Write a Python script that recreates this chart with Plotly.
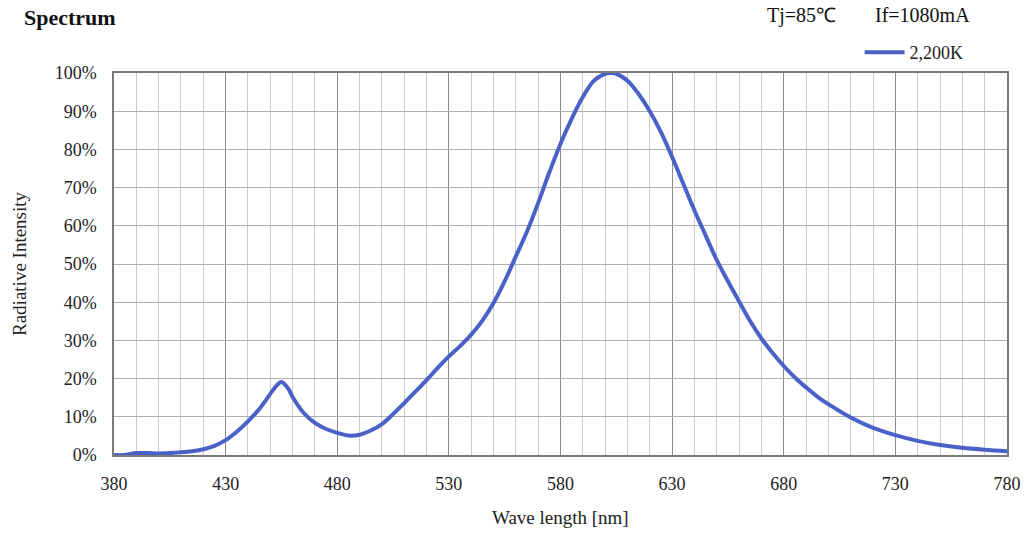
import plotly.graph_objects as go

wavelength = [380, 385, 390, 395, 400, 405, 410, 415, 420, 425, 430, 435, 440, 445, 450,
              452, 455, 458, 460, 465, 470, 475, 480, 485, 490, 495, 500, 505, 510, 515, 520, 525,
              530, 535, 540, 545, 550, 555, 560, 565, 570, 575, 580, 585, 590, 595, 600,
              603, 605, 610, 615, 620, 625, 630, 635, 640, 645, 650, 655, 660, 665, 670,
              675, 680, 685, 690, 695, 700, 710, 720, 730, 740, 750, 760, 770, 780]
intensity = [0.0, 0.0, 0.5, 0.5, 0.4, 0.5, 0.7, 1.0, 1.5, 2.4, 3.9, 6.1, 8.8, 12.0, 16.0,
             17.6, 19.1, 17.4, 15.2, 11.0, 8.4, 6.8, 5.8, 5.1, 5.3, 6.4, 8.1, 10.7, 13.6, 16.6, 19.6, 22.8,
             25.8, 28.5, 31.5, 35.2, 39.8, 45.5, 52.0, 58.5, 66.0, 74.0, 81.5, 88.0, 93.7, 98.0, 99.8,
             100.0, 99.8, 98.0, 94.5, 90.0, 84.5, 78.0, 71.0, 64.0, 57.5, 51.0, 45.5, 40.2, 35.0, 30.5,
             26.7, 23.3, 20.3, 17.7, 15.3, 13.3, 9.8, 7.1, 5.2, 3.7, 2.6, 1.9, 1.4, 1.0]

series_name = "2,200K"
x_ticks = [380, 430, 480, 530, 580, 630, 680, 730, 780]
y_ticks = [0, 10, 20, 30, 40, 50, 60, 70, 80, 90, 100]
y_tick_labels = ["0%", "10%", "20%", "30%", "40%", "50%", "60%", "70%", "80%", "90%", "100%"]

FONT = "Liberation Serif, Times New Roman, serif"
LINE = "#4a62c8"

fig = go.Figure()
fig.add_trace(go.Scatter(
    x=wavelength, y=intensity, mode="lines", name=series_name,
    line=dict(color=LINE, width=4, shape="spline", smoothing=1.0),
))

fig.update_layout(
    width=1025, height=533,
    margin=dict(l=114, r=18, t=73, b=78, autoexpand=False),
    paper_bgcolor="white", plot_bgcolor="white",
    font=dict(family=FONT, size=18, color="#222"),
    showlegend=True,
    legend=dict(x=0.957, xanchor="right", y=1.005, yanchor="bottom", yref="paper",
                xref="paper", bgcolor="rgba(0,0,0,0)", font=dict(size=18, family=FONT),
                itemwidth=40, borderwidth=0),
    xaxis=dict(
        range=[380, 780], tickvals=x_ticks, showgrid=True, gridcolor="#8a8a8a", gridwidth=1,
        minor=dict(dtick=10, tick0=380, showgrid=True, gridcolor="#cccccc", gridwidth=1),
        showline=True, linecolor="#7a7a7a", linewidth=1.5, mirror=True,
        ticks="", ticklabelstandoff=12, zeroline=False, automargin=False,
        tickfont=dict(size=18, family=FONT),
    ),
    yaxis=dict(
        range=[0, 100], tickvals=y_ticks, ticktext=y_tick_labels, showgrid=True,
        gridcolor="#b0b0b0", gridwidth=1, showline=True, linecolor="#7a7a7a",
        linewidth=1.5, mirror=True, ticks="", ticklabelstandoff=12, zeroline=False,
        automargin=False, tickfont=dict(size=18, family=FONT),
    ),
    annotations=[
        dict(text="<b>Spectrum</b>", xref="paper", yref="paper", x=0, y=1,
             xshift=-92, yshift=56, xanchor="left", yanchor="middle", showarrow=False,
             font=dict(size=22, family=FONT, color="#111")),
        dict(text="Tj=85℃", xref="paper", yref="paper", x=0, y=1,
             xshift=765 - 114, yshift=58, xanchor="left", yanchor="middle", showarrow=False,
             font=dict(size=20, family=FONT, color="#111")),
        dict(text="If=1080mA", xref="paper", yref="paper", x=0, y=1,
             xshift=873 - 114, yshift=58, xanchor="left", yanchor="middle", showarrow=False,
             font=dict(size=20, family=FONT, color="#111")),
        dict(text="Wave length [nm]", xref="paper", yref="paper", x=0.5, y=0,
             yshift=-62, xanchor="center", yanchor="middle", showarrow=False,
             font=dict(size=19, family=FONT, color="#222")),
        dict(text="Radiative Intensity", xref="paper", yref="paper", x=0, y=0.5,
             xshift=-95, textangle=-90, xanchor="center", yanchor="middle", showarrow=False,
             font=dict(size=19, family=FONT, color="#222")),
    ],
)

fig.write_html("out.html", config={"displayModeBar": False},
               post_script="document.body.style.margin='0';")
